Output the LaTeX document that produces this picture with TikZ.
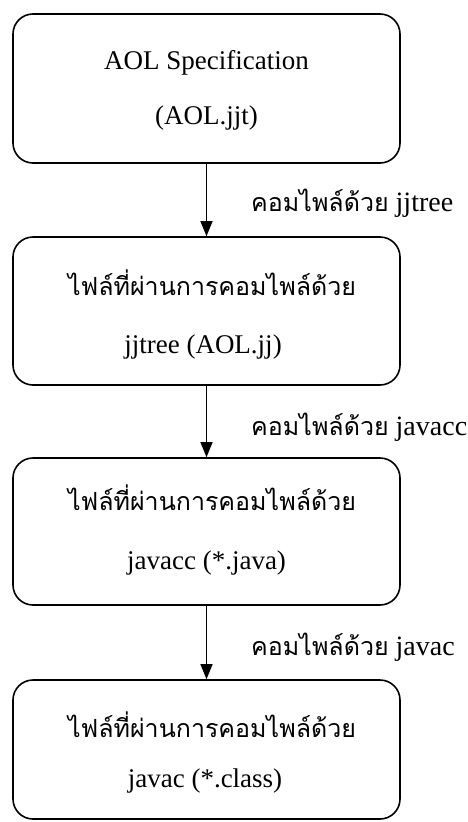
\documentclass[tikz,border=0pt]{standalone}
\usepackage{fontspec}
\setmainfont{Liberation Serif}
\newfontfamily\thaifont[Script=Thai]{Loma}
\usetikzlibrary{arrows.meta}
\begin{document}
\begin{tikzpicture}[x=1pt,y=-1pt,
  box/.style={draw, line width=1.6pt, rounded corners=20pt, minimum width=387pt, inner sep=0pt},
  lat/.style={inner sep=0pt, font=\fontsize{27}{30}\selectfont},
  tha/.style={inner sep=0pt, font=\thaifont\fontsize{25}{30}\selectfont},
  lbl/.style={anchor=west, inner sep=0pt, font=\fontsize{28}{30}\selectfont},
  arr/.style={-{Triangle[length=15pt,width=12pt]}, line width=1.3pt}]
\useasboundingbox (0,0) rectangle (467,822);
\node[box, minimum height=149pt] (b1) at (206.5,88.5) {};
\node[box, minimum height=148pt] (b2) at (206.5,311) {};
\node[box, minimum height=147pt] (b3) at (206.5,531.5) {};
\node[box, minimum height=139pt] (b4) at (206.5,749.5) {};
\node[lat] (t1a) at (206.5,63) {AOL Specification};
\node[lat] (t1b) at (206.5,118) {(AOL.jjt)};
\node[tha] (t2a) at (212,283) {ไฟล์ที่ผ่านการคอมไพล์ด้วย};
\node[lat] (t2b) at (203,347) {jjtree (AOL.jj)};
\node[tha] (t3a) at (212,498) {ไฟล์ที่ผ่านการคอมไพล์ด้วย};
\node[lat] (t3b) at (206.5,563) {javacc (*.java)};
\node[tha] (t4a) at (212,725) {ไฟล์ที่ผ่านการคอมไพล์ด้วย};
\node[lat] (t4b) at (205,781) {javac (*.class)};
\draw[arr] (b1) -- (b2);
\draw[arr] (b2) -- (b3);
\draw[arr] (b3) -- (b4);
\node[lbl] (l1) at (251,203) {{\thaifont\fontsize{25}{30}\selectfont คอมไพล์ด้วย} jjtree};
\node[lbl] (l2) at (251,427) {{\thaifont\fontsize{25}{30}\selectfont คอมไพล์ด้วย} javacc};
\node[lbl] (l3) at (251,647) {{\thaifont\fontsize{25}{30}\selectfont คอมไพล์ด้วย} javac};
\end{tikzpicture}
\end{document}
